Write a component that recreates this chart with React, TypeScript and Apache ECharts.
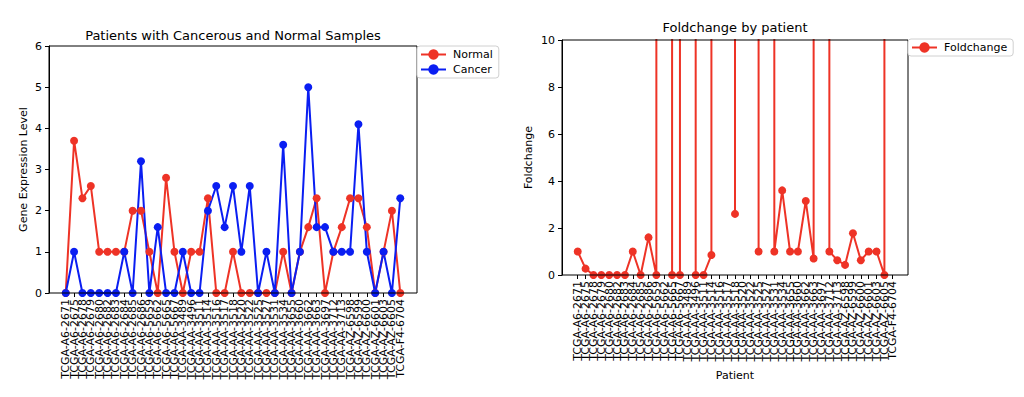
import React, { useEffect, useRef } from "react";
import * as echarts from "echarts";

const patients: string[] = [
  "TCGA-A6-2671", "TCGA-A6-2675", "TCGA-A6-2678", "TCGA-A6-2679", "TCGA-A6-2680",
  "TCGA-A6-2682", "TCGA-A6-2683", "TCGA-A6-2684", "TCGA-A6-2685", "TCGA-A6-2686",
  "TCGA-A6-5659", "TCGA-A6-5662", "TCGA-A6-5665", "TCGA-A6-5667",
  "TCGA-AA-3489", "TCGA-AA-3496", "TCGA-AA-3511", "TCGA-AA-3514", "TCGA-AA-3516",
  "TCGA-AA-3517", "TCGA-AA-3518", "TCGA-AA-3520", "TCGA-AA-3522", "TCGA-AA-3525",
  "TCGA-AA-3527", "TCGA-AA-3531", "TCGA-AA-3534", "TCGA-AA-3655", "TCGA-AA-3660",
  "TCGA-AA-3662", "TCGA-AA-3663", "TCGA-AA-3697", "TCGA-AA-3712", "TCGA-AA-3713",
  "TCGA-AZ-6598", "TCGA-AZ-6599", "TCGA-AZ-6600", "TCGA-AZ-6601", "TCGA-AZ-6603",
  "TCGA-AZ-6605", "TCGA-F4-6704",
];

const normalValues: number[] = [
  0, 3.7, 2.3, 2.6, 1, 1, 1, 1, 2, 2,
  1, 0, 2.8, 1, 0, 1, 1, 2.3, 0, 0,
  1, 0, 0, 0, 0, 0, 1, 0, 1, 1.6,
  2.3, 0, 1, 1.6, 2.3, 2.3, 1.6, 0, 1, 2,
  0,
];

const cancerValues: number[] = [
  0, 1, 0, 0, 0, 0, 0, 1, 0, 3.2,
  0, 1.6, 0, 0, 1, 0, 0, 2, 2.6, 1.6,
  2.6, 1, 2.6, 0, 1, 0, 3.6, 0, 1, 5,
  1.6, 1.6, 1, 1, 1, 4.1, 1, 0, 1, 0,
  2.3,
];

const foldchangeValues: number[] = [
  1, 0.27, 0, 0, 0, 0, 0, 1, 0, 1.6,
  0, Infinity, 0, 0, Infinity, 0, 0, 0.85, Infinity, Infinity,
  2.6, Infinity, Infinity, 1, Infinity, 1, 3.6, 1, 1, 3.15,
  0.7, Infinity, 1, 0.63, 0.43, 1.78, 0.63, 1, 1, 0,
  Infinity,
];

const leftYTicks = { min: 0, max: 6, interval: 1 };
const rightYTicks = { min: 0, max: 10, interval: 2 };

const FONT = "DejaVu Sans";
const RED = "#ee3326";
const BLUE = "#0a1ef2";

// frame (axes box) and inner data area of each panel
const leftFrame = { x: 49, y: 46, w: 368, h: 247 };
const rightFrame = { x: 562, y: 40, w: 346, h: 235 };
const MARGIN = 0.05;

export default function App() {
  const ref = useRef<HTMLDivElement>(null);

  useEffect(() => {
    if (!ref.current) return;
    const chart = echarts.init(ref.current, undefined, { renderer: "svg" });
    const n = patients.length;

    // data-area inset so first/last points sit 5% of the span inside the frame
    const inset = (f: typeof leftFrame) => (f.w * MARGIN) / (1 + 2 * MARGIN);
    const gridFor = (f: typeof leftFrame) => {
      const d = inset(f);
      return { left: f.x + d, top: f.y, width: f.w - 2 * d, height: f.h };
    };

    const makeX = (gridIndex: number, name?: string) => ({
      type: "category",
      gridIndex,
      data: patients,
      boundaryGap: false,
      name: name || "",
      nameLocation: "middle",
      nameGap: 95,
      nameTextStyle: { fontFamily: FONT, fontSize: 11, color: "#000" },
      axisLine: { show: false },
      axisTick: { show: true, length: 4, interval: 0, lineStyle: { color: "#000" } },
      axisLabel: {
        show: true,
        interval: 0,
        rotate: 90,
        margin: 6,
        fontFamily: FONT,
        fontSize: 11,
        color: "#000",
      },
      splitLine: { show: false },
    });

    const makeY = (gridIndex: number, t: any, name: string, nameGap: number, offset: number) => ({
      type: "value",
      gridIndex,
      min: t.min,
      max: t.max,
      interval: t.interval,
      offset,
      name,
      nameLocation: "middle",
      nameGap,
      nameTextStyle: { fontFamily: FONT, fontSize: 11, color: "#000" },
      axisLine: { show: true, onZero: false, lineStyle: { color: "#000", width: 1 } },
      axisTick: { show: true, length: 4, lineStyle: { color: "#000" } },
      axisLabel: { margin: 7, fontFamily: FONT, fontSize: 11, color: "#000" },
      splitLine: { show: false },
    });

    const bigValue = rightYTicks.max * 1e4;
    const frameRect = (f: typeof leftFrame) => ({
      type: "rect",
      z: 100,
      silent: true,
      shape: { x: f.x, y: f.y, width: f.w, height: f.h },
      style: { fill: "none", stroke: "#000", lineWidth: 1 },
    });

    chart.setOption({
      animation: false,
      backgroundColor: "#fff",
      grid: [gridFor(leftFrame), gridFor(rightFrame)],
      xAxis: [makeX(0), makeX(1, "Patient")],
      yAxis: [
        makeY(0, leftYTicks, "Gene Expression Level", 20, inset(leftFrame)),
        makeY(1, rightYTicks, "Foldchange", 28, inset(rightFrame)),
      ],
      legend: [
        {
          data: ["Normal", "Cancer"],
          orient: "vertical",
          left: 417,
          top: 46,
          z: 200,
          itemWidth: 25,
          itemHeight: 13,
          itemGap: 4,
          padding: [3, 6, 3, 3],
          backgroundColor: "#fff",
          borderColor: "#d0d0d0",
          borderWidth: 1,
          borderRadius: 3,
          textStyle: { fontFamily: FONT, fontSize: 11, color: "#000", padding: [0, 0, 0, 2] },
        },
        {
          data: ["Foldchange"],
          orient: "vertical",
          left: 908,
          top: 39,
          z: 200,
          itemWidth: 25,
          itemHeight: 13,
          padding: [3, 6, 3, 3],
          backgroundColor: "#fff",
          borderColor: "#d0d0d0",
          borderWidth: 1,
          borderRadius: 3,
          textStyle: { fontFamily: FONT, fontSize: 11, color: "#000", padding: [0, 0, 0, 2] },
        },
      ],
      graphic: [
        frameRect(leftFrame),
        frameRect(rightFrame),
        {
          type: "text",
          x: leftFrame.x + leftFrame.w / 2,
          y: 35,
          style: {
            text: "Patients with Cancerous and Normal Samples",
            align: "center",
            verticalAlign: "middle",
            fontFamily: FONT,
            fontSize: 13,
            fill: "#000",
          },
        },
        {
          type: "text",
          x: rightFrame.x + rightFrame.w / 2,
          y: 27,
          style: {
            text: "Foldchange by patient",
            align: "center",
            verticalAlign: "middle",
            fontFamily: FONT,
            fontSize: 13,
            fill: "#000",
          },
        },
      ],
      series: [
        {
          name: "Normal",
          type: "line",
          xAxisIndex: 0,
          yAxisIndex: 0,
          data: normalValues,
          color: RED,
          lineStyle: { width: 2, color: RED },
          itemStyle: { color: RED },
          symbol: "circle",
          symbolSize: 8,
          clip: true,
        },
        {
          name: "Cancer",
          type: "line",
          xAxisIndex: 0,
          yAxisIndex: 0,
          data: cancerValues,
          color: BLUE,
          lineStyle: { width: 2, color: BLUE },
          itemStyle: { color: BLUE },
          symbol: "circle",
          symbolSize: 8,
          clip: true,
        },
        {
          name: "Foldchange",
          type: "line",
          xAxisIndex: 1,
          yAxisIndex: 1,
          data: foldchangeValues.map((v) => (isFinite(v) ? v : bigValue)),
          color: RED,
          lineStyle: { width: 2, color: RED },
          itemStyle: { color: RED },
          symbol: "circle",
          symbolSize: 8,
          clip: true,
        },
      ],
    });

    return () => chart.dispose();
  }, []);

  return (
    <div
      ref={ref}
      style={{ position: "absolute", left: 0, top: 0, width: 1024, height: 397 }}
    />
  );
}
